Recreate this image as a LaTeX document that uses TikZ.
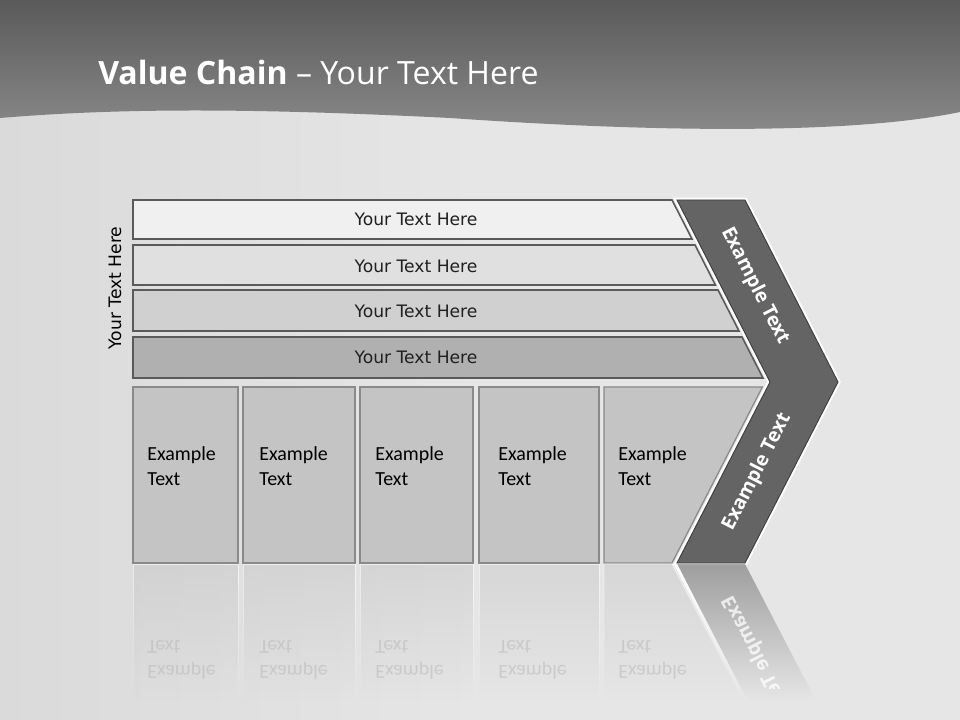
\documentclass[tikz,border=0pt]{standalone}
\usepackage{fontspec}
\setmainfont{Carlito}
\newfontfamily\titlefont{Open Sans}
\newfontfamily\verd{DejaVu Sans}
\usetikzlibrary{fadings}
\definecolor{bgc}{HTML}{E6E6E6}
\definecolor{bgl}{HTML}{DADADA}
\definecolor{hdtop}{HTML}{5A5A5A}
\definecolor{hdbot}{HTML}{8A8A8A}
\definecolor{bandline}{HTML}{5A5A5A}
\definecolor{bandA}{HTML}{F0F0F0}
\definecolor{bandB}{HTML}{E0E0E0}
\definecolor{bandC}{HTML}{D0D0D0}
\definecolor{bandD}{HTML}{B0B0B0}
\definecolor{boxfill}{HTML}{C4C4C4}
\definecolor{boxline}{HTML}{8A8A8A}
\definecolor{chevfill}{HTML}{646464}
\definecolor{chevline}{HTML}{404040}
\definecolor{txt}{HTML}{202020}
\definecolor{refltxt}{HTML}{B8B8B8}
\tikzfading[name=fadedown, top color=transparent!0, bottom color=transparent!100]
\tikzset{
  band/.style={draw=bandline, line width=1.1pt},
  bandtext/.style={font=\verd\fontsize{12.2}{14}\selectfont, text=txt, inner sep=1pt},
  exbox/.style={fill=boxfill, draw=boxline, line width=0.9pt},
  extext/.style={font=\fontsize{14.2}{17.8}\selectfont, text=black, align=left, anchor=north west, inner sep=0pt},
  chevtext/.style={font=\titlefont\bfseries\fontsize{13.8}{16}\selectfont, text=white, inner sep=0pt},
  reflbox/.style={fill=boxfill, fill opacity=0.45, draw=white, draw opacity=0.6, line width=0.6pt, path fading=fadedown},
  reflbtext/.style={font=\fontsize{14.2}{17.8}\selectfont, text=refltxt, text opacity=0.55, align=left, anchor=north west, inner sep=0pt, yscale=-1},
}
\begin{document}
\begin{tikzpicture}[x=0.025cm,y=-0.025cm]
\useasboundingbox (0,0) rectangle (960,720);
% background
\shade[left color=bgl, right color=bgc] (0,0) rectangle (480,720);
\fill[bgc] (480,0) rectangle (960,720);
% header band
\shade[top color=hdtop, bottom color=hdbot] (0,0) -- (960,0) -- (960,112)
  .. controls (850,135) and (650,132) .. (450,118)
  .. controls (250,108) and (120,108) .. (0,118) -- cycle;
\node[anchor=base west, inner sep=0pt, text=white, font=\titlefont\fontsize{22.8}{27}\selectfont] (title) at (98,85) {\textbf{Value Chain} – Your Text Here};

% vertical label
\node[bandtext, text=black, rotate=90] (side) at (115,288) {Your Text Here};

% bands
\draw[band, fill=bandA] (133,200) -- (672,200) -- (692,239) -- (133,239) -- cycle;
\draw[band, fill=bandB] (133,245) -- (695,245) -- (715.4,285) -- (133,285) -- cycle;
\draw[band, fill=bandC] (133,290) -- (718,290) -- (739,331) -- (133,331) -- cycle;
\draw[band, fill=bandD] (133,337) -- (742,337) -- (763,378) -- (133,378) -- cycle;
\node[bandtext] (b1) at (416,219) {Your Text Here};
\node[bandtext] (b2) at (416,266) {Your Text Here};
\node[bandtext] (b3) at (416,311) {Your Text Here};
\node[bandtext] (b4) at (416,357) {Your Text Here};

% boxes
\draw[exbox] (133,387) rectangle (238,563);
\draw[exbox] (243,387) rectangle (355,563);
\draw[exbox] (360,387) rectangle (473,563);
\draw[exbox] (479,387) rectangle (599,563);
\draw[exbox] (604,387) -- (762.4,387) -- (672,563) -- (604,563) -- cycle;
\node[extext] (t1) at (147,446) {Example\\Text};
\node[extext] (t2) at (259,446) {Example\\Text};
\node[extext] (t3) at (375,446) {Example\\Text};
\node[extext] (t4) at (498,446) {Example\\Text};
\node[extext] (t5) at (618,446) {Example\\Text};

% chevron
\draw[white, line width=3.5pt, line join=miter] (677,200) -- (745,200) -- (838,382) -- (745,563) -- (677,563) -- (770,382) -- cycle;
\draw[fill=chevfill, draw=chevline, line width=0.7pt] (677,200) -- (745,200) -- (838,382) -- (745,563) -- (677,563) -- (770,382) -- cycle;
\node[chevtext, rotate=-63] (c1) at (755,286) {Example Text};
\node[chevtext, rotate=63] (c2) at (757,472) {Example Text};

% reflections
\path[reflbox] (133,564) rectangle (238,700);
\path[reflbox] (243,564) rectangle (355,700);
\path[reflbox] (360,564) rectangle (473,700);
\path[reflbox] (479,564) rectangle (599,700);
\path[reflbox] (604,564) -- (672,564) -- (742.5,700) -- (604,700) -- cycle;
\node[reflbtext] (r1) at (147,680) {Example\\Text};
\node[reflbtext] (r2) at (259,680) {Example\\Text};
\node[reflbtext] (r3) at (375,680) {Example\\Text};
\node[reflbtext] (r4) at (498,680) {Example\\Text};
\node[reflbtext] (r5) at (618,680) {Example\\Text};
\fill[fill=chevfill, fill opacity=0.55, path fading=fadedown] (677,564) -- (745,564) -- (815.5,700) -- (747.5,700) -- cycle;
\draw[white, line width=2pt, path fading=fadedown] (676,565) -- (745,700);
\begin{scope}
  \clip (670,564) rectangle (840,688);
  \node[chevtext, text opacity=0.75, rotate=-63, yscale=-1] (rc) at (757,654) {Example Text};
\end{scope}
\end{tikzpicture}
\end{document}
